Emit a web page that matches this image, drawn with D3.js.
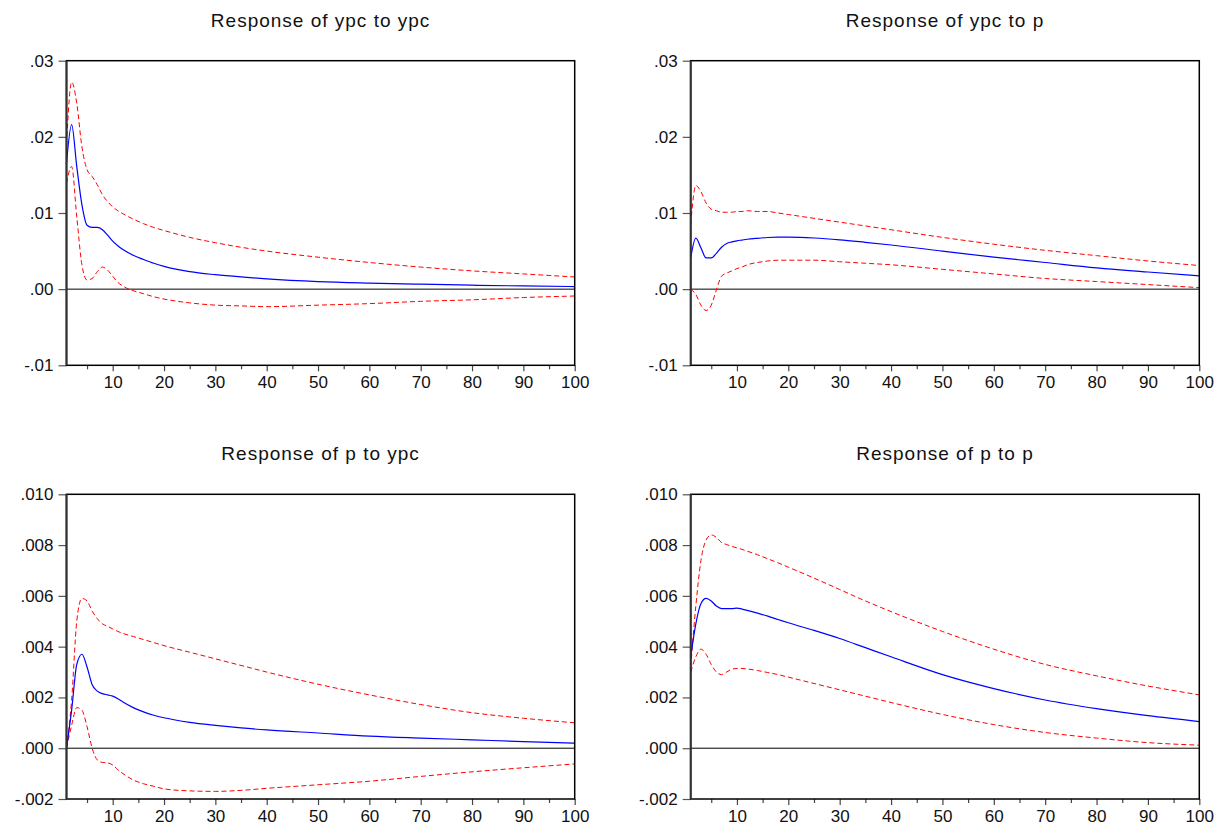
<!DOCTYPE html>
<html>
<head>
<meta charset="utf-8">
<script src="https://cdn.jsdelivr.net/npm/d3@7"></script>
<style>
  body { margin: 0; background: #fff; }
  svg text { font-family: "Liberation Sans", Arial, sans-serif; fill: #111; }
</style>
</head>
<body>
<script>
const width = 1226
const height = 830

const periods = [1, 2, 3, 4, 5, 6, 7, 8, 9, 10, 11, 12, 14, 16, 18, 20, 25, 30, 35, 40, 50, 60, 70, 80, 90, 100]

const titles = ['Response of ypc to ypc', 'Response of ypc to p', 'Response of p to ypc', 'Response of p to p']

// ypc to ypc
const ypcYpc = [.0165, .0216, .0161, .0111, .0084, .0081, .0081, .0078, .0071, .0063, .0057, .0052, .00445, .0039, .0034, .0030, .0023, .0019, .0016, .00135, .0010, .0008, .00065, .00052, .00042, .00034]
const ypcYpcHi = [.0190, .0272, .0244, .0187, .0157, .0148, .0137, .0124, .0115, .0108, .0103, .0099, .0092, .0086, .0081, .0077, .0068, .0061, .0055, .0050, .0042, .0035, .0029, .0024, .0020, .0016]
const ypcYpcLo = [.0139, .0161, .0095, .0032, .0012, .0014, .0023, .0029, .0025, .0017, .0009, .0004, -.0002, -.0006, -.0010, -.0013, -.0018, -.0021, -.0022, -.0023, -.0021, -.0019, -.0016, -.0014, -.0011, -.0009]

// ypc to p
const ypcP = [.0041, .0067, .0054, .0041, .0041, .0047, .0055, .0060, .0062, .00635, .00645, .00655, .00668, .00678, .00682, .00682, .00672, .00648, .00615, .0058, .0050, .0042, .0035, .0028, .00225, .00175]
const ypcPHi = [.0085, .0136, .0128, .0113, .0105, .0103, .0101, .0101, .0101, .0102, .0102, .0103, .0102, .0102, .0100, .0098, .0093, .0088, .0083, .0078, .0068, .0059, .0051, .0044, .0037, .0031]
const ypcPLo = [.0000, -.0007, -.0021, -.0028, -.0021, -.0001, .0017, .0021, .0024, .0027, .0029, .0032, .0035, .0037, .0038, .0038, .0038, .0036, .0034, .0032, .0026, .0020, .0014, .0010, .0006, .0002]

// p to ypc
const pYpc = [.0000, .0015, .0033, .0037, .0032, .0025, .00225, .00215, .0021, .00205, .00195, .00182, .0016, .00143, .0013, .0012, .00102, .0009, .0008, .00072, .0006, .00048, .0004, .00033, .00026, .0002]
const pYpcHi = [.0000, .0019, .0050, .0059, .0058, .0054, .0051, .0049, .0048, .0047, .0046, .00452, .0044, .00428, .00416, .00404, .00378, .00352, .00326, .0030, .00252, .0021, .00172, .0014, .00118, .0010]
const pYpcLo = [.0000, .0009, .0016, .0015, .00085, .0000, -.00046, -.00056, -.00058, -.00066, -.00085, -.0010, -.00125, -.0014, -.0015, -.0016, -.00168, -.0017, -.00166, -.00158, -.00144, -.0013, -.00111, -.00093, -.00077, -.00062]

// p to p
const pP = [.0036, .0049, .0057, .0059, .0058, .0056, .0055, .0055, .0055, .00552, .00548, .00543, .00532, .0052, .00507, .00494, .00464, .00432, .00396, .0036, .0029, .00235, .0019, .00156, .00128, .00105]
const pPHi = [.0032, .0056, .0074, .0082, .0084, .0083, .0081, .00802, .00795, .00789, .00783, .00776, .00762, .00746, .0073, .00713, .0067, .00625, .0058, .00538, .0046, .0039, .0033, .00285, .00245, .0021]
const pPLo = [.0030, .0036, .0039, .0037, .0033, .0030, .0029, .0030, .00311, .00314, .00314, .00312, .00306, .00298, .0029, .0028, .00255, .0023, .00205, .0018, .00133, .00093, .00062, .0004, .00022, .00012]

const topTicks = [-0.01, 0, 0.01, 0.02, 0.03]
const bottomTicks = [-0.002, 0, 0.002, 0.004, 0.006, 0.008, 0.010]
const xMajor = [10, 20, 30, 40, 50, 60, 70, 80, 90, 100]
const xMinor = [5, 15, 25, 35, 45, 55, 65, 75, 85, 95]

const panels = [
  { title: titles[0], mid: ypcYpc, hi: ypcYpcHi, lo: ypcYpcLo, ticks: topTicks, dec: 2, x0: 66.5, x1: 574.7, y0: 60.7, y1: 365.3 },
  { title: titles[1], mid: ypcP, hi: ypcPHi, lo: ypcPLo, ticks: topTicks, dec: 2, x0: 690.7, x1: 1199.3, y0: 60.7, y1: 365.3 },
  { title: titles[2], mid: pYpc, hi: pYpcHi, lo: pYpcLo, ticks: bottomTicks, dec: 3, x0: 66.5, x1: 574.7, y0: 494.3, y1: 799 },
  { title: titles[3], mid: pP, hi: pPHi, lo: pPLo, ticks: bottomTicks, dec: 3, x0: 690.7, x1: 1199.3, y0: 494.3, y1: 799 }
]

const svg = d3.select('body').append('svg')
  .attr('width', width)
  .attr('height', height)

function fmt(dec) {
  const f = d3.format('.' + dec + 'f')
  return v => f(v).replace('\u2212', '-').replace(/^(-?)0\./, '$1.')
}

panels.forEach(p => {
  const g = svg.append('g')
  const x = d3.scaleLinear().domain([1, 100]).range([p.x0, p.x1])
  const y = d3.scaleLinear().domain(d3.extent(p.ticks)).range([p.y1, p.y0])

  g.append('text')
    .attr('x', (p.x0 + p.x1) / 2)
    .attr('y', p.y0 - 34)
    .attr('text-anchor', 'middle')
    .attr('font-size', 19)
    .attr('letter-spacing', 1)
    .text(p.title)

  // y axis
  const yAxis = d3.axisLeft(y).tickValues(p.ticks).tickFormat(fmt(p.dec)).tickSize(8).tickPadding(5)
  const ya = g.append('g').attr('transform', `translate(${p.x0},0)`).call(yAxis)
  ya.select('.domain').remove()
  ya.selectAll('line').attr('stroke', '#555').attr('stroke-width', 1.2)
  ya.selectAll('text').attr('font-size', 17).attr('fill', '#111').attr('font-family', '"Liberation Sans", Arial, sans-serif')

  // x axis
  const xAxis = d3.axisBottom(x).tickValues(xMajor).tickSize(6).tickPadding(5)
  const xa = g.append('g').attr('transform', `translate(0,${p.y1})`).call(xAxis)
  xa.select('.domain').remove()
  xa.selectAll('line').attr('stroke', '#444').attr('stroke-width', 1.2)
  xa.selectAll('text').attr('font-size', 17).attr('fill', '#111').attr('font-family', '"Liberation Sans", Arial, sans-serif')
  const xm = g.append('g').attr('transform', `translate(0,${p.y1})`)
    .call(d3.axisBottom(x).tickValues(xMinor).tickSize(4).tickFormat(''))
  xm.select('.domain').remove()
  xm.selectAll('line').attr('stroke', '#444').attr('stroke-width', 1.2)

  // zero line
  g.append('line')
    .attr('x1', p.x0).attr('x2', p.x1)
    .attr('y1', y(0)).attr('y2', y(0))
    .attr('stroke', '#000').attr('stroke-width', 1)

  const line = d3.line()
    .x((d, i) => x(periods[i]))
    .y(d => y(d))
    .curve(d3.curveMonotoneX)

  g.append('path').datum(p.hi).attr('d', line)
    .attr('fill', 'none').attr('stroke', '#ff0000').attr('stroke-width', 1).attr('stroke-dasharray', '5,3')
  g.append('path').datum(p.lo).attr('d', line)
    .attr('fill', 'none').attr('stroke', '#ff0000').attr('stroke-width', 1).attr('stroke-dasharray', '5,3')
  g.append('path').datum(p.mid).attr('d', line)
    .attr('fill', 'none').attr('stroke', '#0000ff').attr('stroke-width', 1.2)

  // frame
  g.append('rect')
    .attr('x', p.x0).attr('y', p.y0)
    .attr('width', p.x1 - p.x0).attr('height', p.y1 - p.y0)
    .attr('fill', 'none').attr('stroke', '#000').attr('stroke-width', 1.5)
  g.append('line')
    .attr('x1', p.x0).attr('x2', p.x0).attr('y1', p.y0).attr('y2', p.y1)
    .attr('stroke', '#333').attr('stroke-width', 2)
})
</script>
</body>
</html>
